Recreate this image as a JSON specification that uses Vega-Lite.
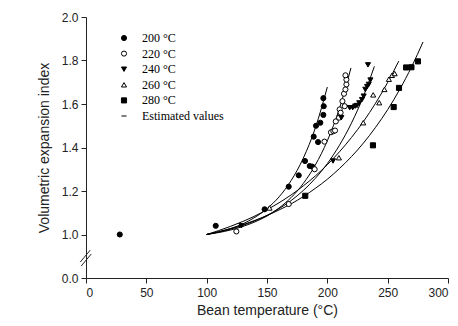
{
  "$schema": "https://vega.github.io/schema/vega-lite/v6.json",
  "width": 362,
  "height": 261,
  "autosize": "none",
  "padding": {"left": 86, "top": 17, "right": 10, "bottom": 48},
  "background": "white",
  "config": {
    "view": {"stroke": null},
    "axis": {
      "grid": false,
      "domainColor": "#222222",
      "tickColor": "#222222",
      "labelColor": "#222222",
      "titleColor": "#222222",
      "labelFont": "Liberation Sans",
      "titleFont": "Liberation Sans",
      "labelFontSize": 12,
      "titleFontSize": 14,
      "titleFontWeight": "normal",
      "tickSize": 5
    }
  },
  "datasets": {
    "points": [
      {"series": "200 °C", "T": 28, "VEI": 1.0},
      {"series": "200 °C", "T": 107.5, "VEI": 1.04},
      {"series": "200 °C", "T": 148, "VEI": 1.116},
      {"series": "200 °C", "T": 168, "VEI": 1.22},
      {"series": "200 °C", "T": 176.3, "VEI": 1.272},
      {"series": "200 °C", "T": 181.5, "VEI": 1.338},
      {"series": "200 °C", "T": 185.4, "VEI": 1.315},
      {"series": "200 °C", "T": 187.6, "VEI": 1.312},
      {"series": "200 °C", "T": 188.7, "VEI": 1.45},
      {"series": "200 °C", "T": 192.3, "VEI": 1.425},
      {"series": "200 °C", "T": 190.6, "VEI": 1.5},
      {"series": "200 °C", "T": 194.2, "VEI": 1.514},
      {"series": "200 °C", "T": 196.7, "VEI": 1.55},
      {"series": "200 °C", "T": 197, "VEI": 1.59},
      {"series": "200 °C", "T": 196.7, "VEI": 1.627},
      {"series": "220 °C", "T": 124.6, "VEI": 1.014},
      {"series": "220 °C", "T": 168, "VEI": 1.14},
      {"series": "220 °C", "T": 189.5, "VEI": 1.3},
      {"series": "220 °C", "T": 197.6, "VEI": 1.427},
      {"series": "220 °C", "T": 203, "VEI": 1.47},
      {"series": "220 °C", "T": 205, "VEI": 1.475},
      {"series": "220 °C", "T": 206.4, "VEI": 1.478},
      {"series": "220 °C", "T": 207, "VEI": 1.52},
      {"series": "220 °C", "T": 209.7, "VEI": 1.537},
      {"series": "220 °C", "T": 210.2, "VEI": 1.575},
      {"series": "220 °C", "T": 211, "VEI": 1.56},
      {"series": "220 °C", "T": 212.5, "VEI": 1.613},
      {"series": "220 °C", "T": 214.4, "VEI": 1.59},
      {"series": "220 °C", "T": 213.8, "VEI": 1.647},
      {"series": "220 °C", "T": 215, "VEI": 1.667},
      {"series": "220 °C", "T": 215.8, "VEI": 1.69},
      {"series": "220 °C", "T": 215.8, "VEI": 1.712},
      {"series": "220 °C", "T": 215, "VEI": 1.732},
      {"series": "240 °C", "T": 128.8, "VEI": 1.04},
      {"series": "240 °C", "T": 204.7, "VEI": 1.338},
      {"series": "240 °C", "T": 211.6, "VEI": 1.537},
      {"series": "240 °C", "T": 218.5, "VEI": 1.583},
      {"series": "240 °C", "T": 221, "VEI": 1.583},
      {"series": "240 °C", "T": 223, "VEI": 1.59},
      {"series": "240 °C", "T": 224.6, "VEI": 1.593},
      {"series": "240 °C", "T": 226.5, "VEI": 1.605},
      {"series": "240 °C", "T": 228.7, "VEI": 1.62},
      {"series": "240 °C", "T": 230.1, "VEI": 1.636},
      {"series": "240 °C", "T": 231.5, "VEI": 1.667},
      {"series": "240 °C", "T": 233, "VEI": 1.68},
      {"series": "240 °C", "T": 234.3, "VEI": 1.69},
      {"series": "240 °C", "T": 235.7, "VEI": 1.71},
      {"series": "240 °C", "T": 233.7, "VEI": 1.78},
      {"series": "260 °C", "T": 152.1, "VEI": 1.122},
      {"series": "260 °C", "T": 209.6, "VEI": 1.353},
      {"series": "260 °C", "T": 229.8, "VEI": 1.514},
      {"series": "260 °C", "T": 238, "VEI": 1.642},
      {"series": "260 °C", "T": 243, "VEI": 1.606},
      {"series": "260 °C", "T": 247.3, "VEI": 1.667},
      {"series": "260 °C", "T": 251, "VEI": 1.714},
      {"series": "260 °C", "T": 253.6, "VEI": 1.732},
      {"series": "260 °C", "T": 255.8, "VEI": 1.74},
      {"series": "280 °C", "T": 181.7, "VEI": 1.178},
      {"series": "280 °C", "T": 237.8, "VEI": 1.41},
      {"series": "280 °C", "T": 255, "VEI": 1.586},
      {"series": "280 °C", "T": 259.4, "VEI": 1.674},
      {"series": "280 °C", "T": 265.3, "VEI": 1.768},
      {"series": "280 °C", "T": 269.7, "VEI": 1.769},
      {"series": "280 °C", "T": 275.1, "VEI": 1.796}
    ],
    "curves": [
      {"series": "200 °C", "T": 100, "VEI": 1.0},
      {"series": "200 °C", "T": 110, "VEI": 1.012},
      {"series": "200 °C", "T": 120, "VEI": 1.027},
      {"series": "200 °C", "T": 130, "VEI": 1.049},
      {"series": "200 °C", "T": 140, "VEI": 1.079},
      {"series": "200 °C", "T": 150, "VEI": 1.119},
      {"series": "200 °C", "T": 160, "VEI": 1.173},
      {"series": "200 °C", "T": 170, "VEI": 1.248},
      {"series": "200 °C", "T": 180, "VEI": 1.35},
      {"series": "200 °C", "T": 190, "VEI": 1.489},
      {"series": "200 °C", "T": 200, "VEI": 1.678},
      {"series": "220 °C", "T": 100, "VEI": 1.0},
      {"series": "220 °C", "T": 110, "VEI": 1.009},
      {"series": "220 °C", "T": 120, "VEI": 1.021},
      {"series": "220 °C", "T": 130, "VEI": 1.037},
      {"series": "220 °C", "T": 140, "VEI": 1.058},
      {"series": "220 °C", "T": 150, "VEI": 1.085},
      {"series": "220 °C", "T": 160, "VEI": 1.122},
      {"series": "220 °C", "T": 170, "VEI": 1.17},
      {"series": "220 °C", "T": 180, "VEI": 1.234},
      {"series": "220 °C", "T": 190, "VEI": 1.319},
      {"series": "220 °C", "T": 200, "VEI": 1.431},
      {"series": "220 °C", "T": 210, "VEI": 1.579},
      {"series": "220 °C", "T": 219.6, "VEI": 1.766},
      {"series": "240 °C", "T": 100, "VEI": 1.0},
      {"series": "240 °C", "T": 110, "VEI": 1.011},
      {"series": "240 °C", "T": 120, "VEI": 1.025},
      {"series": "240 °C", "T": 130, "VEI": 1.042},
      {"series": "240 °C", "T": 140, "VEI": 1.063},
      {"series": "240 °C", "T": 150, "VEI": 1.088},
      {"series": "240 °C", "T": 160, "VEI": 1.119},
      {"series": "240 °C", "T": 170, "VEI": 1.156},
      {"series": "240 °C", "T": 180, "VEI": 1.202},
      {"series": "240 °C", "T": 190, "VEI": 1.258},
      {"series": "240 °C", "T": 200, "VEI": 1.326},
      {"series": "240 °C", "T": 210, "VEI": 1.41},
      {"series": "240 °C", "T": 220, "VEI": 1.512},
      {"series": "240 °C", "T": 230, "VEI": 1.637},
      {"series": "240 °C", "T": 239, "VEI": 1.773},
      {"series": "260 °C", "T": 100, "VEI": 1.0},
      {"series": "260 °C", "T": 110, "VEI": 1.018},
      {"series": "260 °C", "T": 120, "VEI": 1.038},
      {"series": "260 °C", "T": 130, "VEI": 1.06},
      {"series": "260 °C", "T": 140, "VEI": 1.085},
      {"series": "260 °C", "T": 150, "VEI": 1.114},
      {"series": "260 °C", "T": 160, "VEI": 1.146},
      {"series": "260 °C", "T": 170, "VEI": 1.182},
      {"series": "260 °C", "T": 180, "VEI": 1.223},
      {"series": "260 °C", "T": 190, "VEI": 1.269},
      {"series": "260 °C", "T": 200, "VEI": 1.321},
      {"series": "260 °C", "T": 210, "VEI": 1.38},
      {"series": "260 °C", "T": 220, "VEI": 1.446},
      {"series": "260 °C", "T": 230, "VEI": 1.52},
      {"series": "260 °C", "T": 240, "VEI": 1.604},
      {"series": "260 °C", "T": 250, "VEI": 1.699},
      {"series": "260 °C", "T": 259.2, "VEI": 1.797},
      {"series": "280 °C", "T": 100, "VEI": 1.0},
      {"series": "280 °C", "T": 110, "VEI": 1.013},
      {"series": "280 °C", "T": 120, "VEI": 1.028},
      {"series": "280 °C", "T": 130, "VEI": 1.045},
      {"series": "280 °C", "T": 140, "VEI": 1.065},
      {"series": "280 °C", "T": 150, "VEI": 1.087},
      {"series": "280 °C", "T": 160, "VEI": 1.113},
      {"series": "280 °C", "T": 170, "VEI": 1.141},
      {"series": "280 °C", "T": 180, "VEI": 1.174},
      {"series": "280 °C", "T": 190, "VEI": 1.212},
      {"series": "280 °C", "T": 200, "VEI": 1.254},
      {"series": "280 °C", "T": 210, "VEI": 1.303},
      {"series": "280 °C", "T": 220, "VEI": 1.358},
      {"series": "280 °C", "T": 230, "VEI": 1.421},
      {"series": "280 °C", "T": 240, "VEI": 1.493},
      {"series": "280 °C", "T": 250, "VEI": 1.574},
      {"series": "280 °C", "T": 260, "VEI": 1.667},
      {"series": "280 °C", "T": 270, "VEI": 1.773},
      {"series": "280 °C", "T": 279.3, "VEI": 1.885}
    ],
    "brk": [
      {"T": -4.8, "VEI": 0.873, "T2": 3.5, "VEI2": 0.928},
      {"T": -4.0, "VEI": 0.855, "T2": 4.3, "VEI2": 0.91}
    ]
  },
  "encoding": {
    "x": {
      "field": "T",
      "type": "quantitative",
      "scale": {"domain": [0, 300], "nice": false, "zero": false},
      "axis": {
        "values": [0, 50, 100, 150, 200, 250, 300],
        "title": "Bean temperature (°C)",
        "labelPadding": 4,
        "titlePadding": 5
      }
    },
    "y": {
      "field": "VEI",
      "type": "quantitative",
      "scale": {"domain": [0.8, 2.0], "nice": false, "zero": false},
      "axis": {
        "values": [0.8, 1.0, 1.2, 1.4, 1.6, 1.8, 2.0],
        "labelExpr": "datum.value < 0.9 ? '0.0' : format(datum.value, '.1f')",
        "title": "Volumetric expansion index",
        "labelPadding": 3,
        "titlePadding": 10
      }
    }
  },
  "layer": [
    {
      "data": {"name": "curves"},
      "mark": {"type": "line", "color": "black", "strokeWidth": 1, "interpolate": "monotone"},
      "encoding": {"detail": {"field": "series", "type": "nominal"}}
    },
    {
      "data": {"name": "points"},
      "mark": {"type": "point", "filled": true, "stroke": "black", "strokeWidth": 1, "opacity": 1},
      "encoding": {
        "shape": {
          "field": "series",
          "type": "nominal",
          "scale": {
            "domain": ["200 °C", "220 °C", "240 °C", "260 °C", "280 °C", "Estimated values"],
            "range": ["circle", "circle", "triangle-down", "triangle-up", "square", "stroke"]
          },
          "legend": {
            "title": null,
            "orient": "none",
            "legendX": 32,
            "legendY": 15,
            "padding": 0,
            "rowPadding": 3.6,
            "labelFont": "Liberation Serif",
            "labelFontSize": 12,
            "labelColor": "black",
            "labelOffset": 12,
            "symbolStrokeColor": "black",
            "symbolStrokeWidth": 1
          }
        },
        "fill": {
          "field": "series",
          "type": "nominal",
          "scale": {
            "domain": ["200 °C", "220 °C", "240 °C", "260 °C", "280 °C", "Estimated values"],
            "range": ["black", "white", "black", "white", "black", "transparent"]
          },
          "legend": {"title": null}
        },
        "size": {
          "field": "series",
          "type": "nominal",
          "scale": {
            "domain": ["200 °C", "220 °C", "240 °C", "260 °C", "280 °C", "Estimated values"],
            "range": [26, 26, 26, 26, 26, 784]
          },
          "legend": {"title": null}
        }
      }
    },
    {
      "data": {"name": "brk"},
      "mark": {"type": "rule", "color": "#222222", "strokeWidth": 1, "clip": false},
      "encoding": {
        "x2": {"field": "T2"},
        "y2": {"field": "VEI2"}
      }
    }
  ]
}
